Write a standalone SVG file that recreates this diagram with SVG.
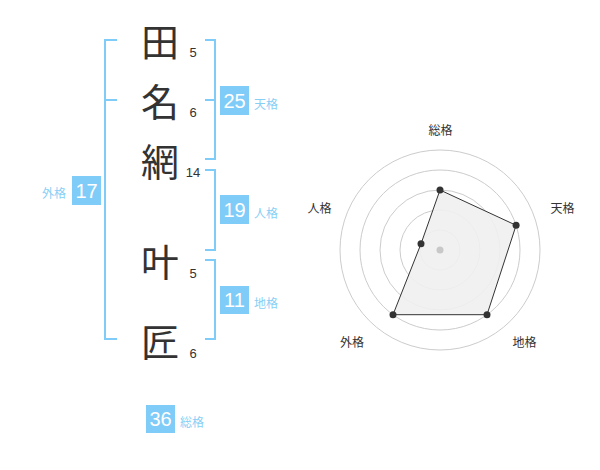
<svg xmlns="http://www.w3.org/2000/svg" width="600" height="470" viewBox="0 0 600 470">
<style>
.ch{font-family:"Noto Sans CJK JP","Noto Sans CJK SC",sans-serif;font-size:38px;fill:#333;text-anchor:middle}
.num{font-family:"Liberation Sans",Arial,sans-serif;font-size:13px;fill:#333;text-anchor:middle}
.box{fill:#80ccf8}
.bn{font-family:"Liberation Sans",Arial,sans-serif;font-size:20px;fill:#fff;text-anchor:middle}
.lb{font-family:"Noto Sans CJK JP","Noto Sans CJK SC",sans-serif;font-size:12px;fill:#88cff5}
.br{fill:none;stroke:#80ccf8;stroke-width:2}
.ring{fill:none;stroke:#cccccc;stroke-width:1}
.rl{font-family:"Noto Sans CJK JP","Noto Sans CJK SC",sans-serif;font-size:12px;fill:#333;text-anchor:middle}
.dot{fill:#333}
</style>
<rect width="600" height="470" fill="#fff"/>
<g id="connectors">
<path class="br" d="M117,40 H105 V339 H117 M105,100 H117"/>
<path class="br" d="M205,40 H215 V159 H205 M205,100 H215"/>
<path class="br" d="M205,170 H215 V250 H205"/>
<path class="br" d="M205,260 H215 V339 H205"/>
</g>
<g id="char1"><text class="ch" x="160" y="56">田</text><text class="num" x="193" y="57">5</text></g>
<g id="char2"><text class="ch" x="160" y="116">名</text><text class="num" x="193" y="117">6</text></g>
<g id="char3"><text class="ch" x="160" y="176">網</text><text class="num" x="193" y="177">14</text></g>
<g id="char4"><text class="ch" x="160" y="276">叶</text><text class="num" x="193" y="278">5</text></g>
<g id="char5"><text class="ch" x="160" y="356">匠</text><text class="num" x="193" y="358">6</text></g>
<g id="tenkaku"><rect class="box" x="220" y="86" width="29" height="29"/><text class="bn" x="234.5" y="108">25</text><text class="lb" x="254" y="108.5">天格</text></g>
<g id="jinkaku"><rect class="box" x="220" y="195" width="29" height="29"/><text class="bn" x="234.5" y="217">19</text><text class="lb" x="254" y="217.5">人格</text></g>
<g id="chikaku"><rect class="box" x="220" y="286" width="29" height="28"/><text class="bn" x="234.5" y="307">11</text><text class="lb" x="254" y="308">地格</text></g>
<g id="gaikaku"><rect class="box" x="72" y="176" width="29" height="29"/><text class="bn" x="86.5" y="198">17</text><text class="lb" x="66" y="197.5" text-anchor="end">外格</text></g>
<g id="soukaku"><rect class="box" x="146" y="405" width="29" height="28"/><text class="bn" x="160.5" y="426">36</text><text class="lb" x="180" y="427">総格</text></g>
<g id="radar">
<circle class="ring" cx="440" cy="250" r="20"/>
<circle class="ring" cx="440" cy="250" r="40"/>
<circle class="ring" cx="440" cy="250" r="60"/>
<circle class="ring" cx="440" cy="250" r="80"/>
<circle class="ring" cx="440" cy="250" r="100"/>
<polygon points="440,190 516.1,225.3 487,314.7 393,314.7 421,243.8" fill="#efefef" fill-opacity="0.9" stroke="#333" stroke-width="1"/>
<circle cx="440" cy="250" r="3.5" fill="#c8c8c8"/>
<circle class="dot" cx="440" cy="190" r="3.5"/>
<circle class="dot" cx="516.1" cy="225.3" r="3.5"/>
<circle class="dot" cx="487" cy="314.7" r="3.5"/>
<circle class="dot" cx="393" cy="314.7" r="3.5"/>
<circle class="dot" cx="421" cy="243.8" r="3.5"/>
<text class="rl" x="440.5" y="134.5">総格</text>
<text class="rl" x="562.5" y="213">天格</text>
<text class="rl" x="524.5" y="346.5">地格</text>
<text class="rl" x="352" y="346.5">外格</text>
<text class="rl" x="319.5" y="213">人格</text>
</g>
</svg>
